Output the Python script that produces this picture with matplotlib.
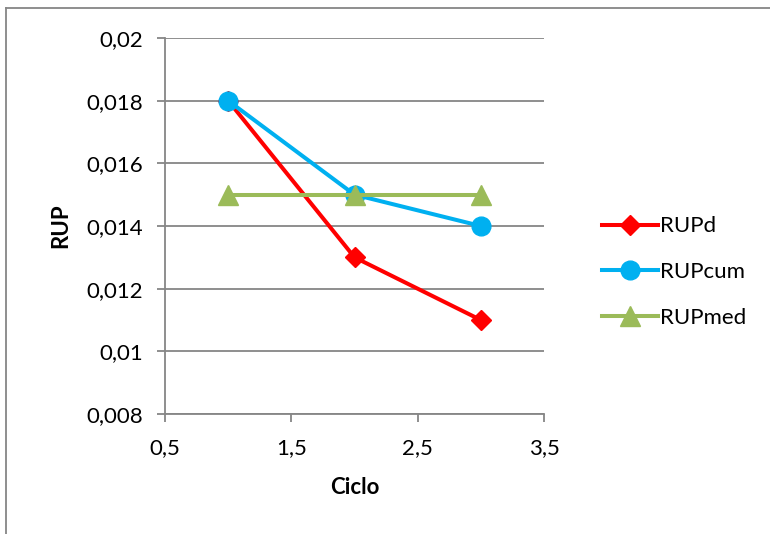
import matplotlib.pyplot as plt
from matplotlib.lines import Line2D
from matplotlib.ticker import FuncFormatter

ciclo = [1, 2, 3]
rup_d = [0.018, 0.013, 0.011]
rup_cum = [0.018, 0.015, 0.014]
rup_med = [0.015, 0.015, 0.015]
x_ticks = [0.5, 1.5, 2.5, 3.5]
y_ticks = [0.008, 0.010, 0.012, 0.014, 0.016, 0.018, 0.020]

plt.rcParams['font.family'] = ['Lato', 'DejaVu Sans']
grid_color = '#868686'

fig = plt.figure(figsize=(7.7, 5.34), dpi=100)
ax = fig.add_axes([0.2143, 0.2247, 0.4922, 0.7041])

ax.plot(ciclo, rup_d, color='#FF0000', lw=2.9, marker='D', markersize=10.5, label='RUPd')
ax.plot(ciclo, rup_cum, color='#00B0F0', lw=2.9, marker='o', markersize=13.5, label='RUPcum')
ax.plot(ciclo, rup_med, color='#9BBB59', lw=2.9, marker='^', markersize=14.5, label='RUPmed')

ax.set_xlim(0.5, 3.5)
ax.set_ylim(0.008, 0.02)
ax.set_xticks(x_ticks)
ax.set_yticks(y_ticks)

def comma(v, pos):
    s = ('%.3f' % v).rstrip('0').rstrip('.')
    return s.replace('.', ',')

ax.xaxis.set_major_formatter(FuncFormatter(comma))
ax.yaxis.set_major_formatter(FuncFormatter(comma))

ax.grid(axis='y', color=grid_color, lw=1.3)
ax.set_axisbelow(True)
for side in ['top', 'right']:
    ax.spines[side].set_visible(False)
for side in ['left', 'bottom']:
    ax.spines[side].set_color(grid_color)
    ax.spines[side].set_linewidth(1.3)
ax.tick_params(axis='both', direction='out', length=6, width=1.3, color=grid_color,
               labelsize=16, labelcolor='black')
ax.tick_params(axis='y', pad=10)
ax.tick_params(axis='x', pad=11)

ax.set_xlabel('Ciclo', fontsize=16, fontweight='bold', labelpad=14)
ax.set_ylabel('RUP', fontsize=16, fontweight='bold', labelpad=11)

ax.legend(loc='center left', bbox_to_anchor=(0.782, 1 - 272 / 534), bbox_transform=fig.transFigure,
          frameon=False, fontsize=16, handlelength=2.5, handletextpad=0.1, labelspacing=1.15,
          borderaxespad=0, borderpad=0)

# outer chart border (left and top edges visible)
fig.add_artist(Line2D([6 / 770, 6 / 770], [0, 1 - 8 / 534], transform=fig.transFigure,
                      color=grid_color, lw=1.3))
fig.add_artist(Line2D([6 / 770, 1], [1 - 8 / 534, 1 - 8 / 534], transform=fig.transFigure,
                      color=grid_color, lw=1.3))

fig.savefig('out.png', dpi=100)
